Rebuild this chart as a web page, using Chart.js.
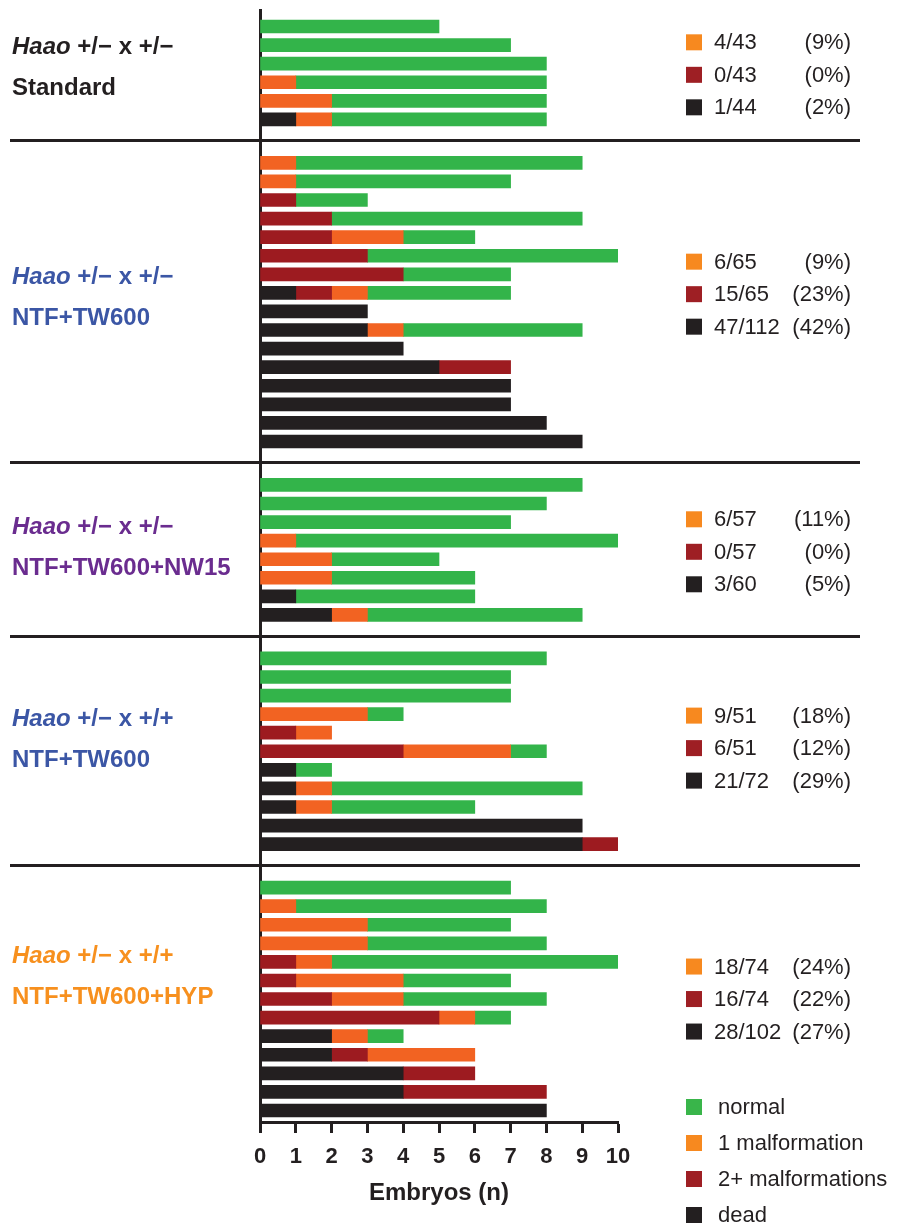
<!DOCTYPE html>
<html>
<head>
<meta charset="utf-8">
<script src="https://cdn.jsdelivr.net/npm/chart.js@4.4.1/dist/chart.umd.min.js"></script>
<style>
  html, body { margin: 0; padding: 0; background: #ffffff; }
  #wrap { position: relative; width: 910px; height: 1227px; }
</style>
</head>
<body>
<div id="wrap"><canvas id="litters"></canvas></div>
<script>
// Litters per experimental group; each row is one litter (embryo counts).
const groupSizes = [6, 16, 8, 11, 13];

const groupCross = ['+/\u2212 x +/\u2212', '+/\u2212 x +/\u2212', '+/\u2212 x +/\u2212', '+/\u2212 x +/+', '+/\u2212 x +/+'];
const groupDiet  = ['Standard', 'NTF+TW600', 'NTF+TW600+NW15', 'NTF+TW600', 'NTF+TW600+HYP'];

const dead = [
  0, 0, 0, 0, 0, 1,
  0, 0, 0, 0, 0, 0, 0, 1, 3, 3, 4, 5, 7, 7, 8, 9,
  0, 0, 0, 0, 0, 0, 1, 2,
  0, 0, 0, 0, 0, 0, 1, 1, 1, 9, 9,
  0, 0, 0, 0, 0, 0, 0, 0, 2, 2, 4, 4, 8
];
const twoPlus = [
  0, 0, 0, 0, 0, 0,
  0, 0, 1, 2, 2, 3, 4, 1, 0, 0, 0, 2, 0, 0, 0, 0,
  0, 0, 0, 0, 0, 0, 0, 0,
  0, 0, 0, 0, 1, 4, 0, 0, 0, 0, 1,
  0, 0, 0, 0, 1, 1, 2, 5, 0, 1, 2, 4, 0
];
const oneMal = [
  0, 0, 0, 1, 2, 1,
  1, 1, 0, 0, 2, 0, 0, 1, 0, 1, 0, 0, 0, 0, 0, 0,
  0, 0, 0, 1, 2, 2, 0, 1,
  0, 0, 0, 3, 1, 3, 0, 1, 1, 0, 0,
  0, 1, 3, 3, 1, 3, 2, 1, 1, 3, 0, 0, 0
];
const normal = [
  5, 7, 8, 7, 6, 6,
  8, 6, 2, 7, 2, 7, 3, 4, 0, 5, 0, 0, 0, 0, 0, 0,
  9, 8, 7, 9, 3, 4, 5, 6,
  8, 7, 7, 1, 0, 1, 1, 7, 4, 0, 0,
  7, 7, 4, 5, 8, 3, 4, 1, 1, 0, 0, 0, 0
];

// Summary per group: malformation and death rates
const oneMalStat  = ['4/43', '6/65', '6/57', '9/51', '18/74'];
const oneMalPct   = ['(9%)', '(9%)', '(11%)', '(18%)', '(24%)'];
const twoPlusStat = ['0/43', '15/65', '0/57', '6/51', '16/74'];
const twoPlusPct  = ['(0%)', '(23%)', '(0%)', '(12%)', '(22%)'];
const deadStat    = ['1/44', '47/112', '3/60', '21/72', '28/102'];
const deadPct     = ['(2%)', '(42%)', '(5%)', '(29%)', '(27%)'];

const xTicks = [0, 1, 2, 3, 4, 5, 6, 7, 8, 9, 10];

// ---- styling ----
const FONT = '"Liberation Sans", Arial, Helvetica, sans-serif';
const INK = '#231f20';
const BAR = { dead: '#231f20', two: '#9d1b20', one: '#f26322', normal: '#33b44a' };
const KEY = { dead: '#231f20', two: '#9e1f24', one: '#f7891f', normal: '#39b54a' };
const groupColors = ['#231f20', '#3b56a5', '#6a2c8f', '#3b56a5', '#f7901e'];
const GAP = 1.34;            // extra row space between groups
const labelShift = [-0.3, -0.22, -0.1, -0.62, -1.2];
const statShift = [0.1, -0.43, 0.1, -0.17, 0];

// Row positions on the vertical axis: consecutive litters, wider gap between groups
const rowPos = [];
const groupFirst = [];
let k = 0;
groupSizes.forEach((n, g) => {
  groupFirst.push(k + g * GAP);
  for (let i = 0; i < n; i++) { rowPos.push(k + g * GAP); k++; }
});
const lastPos = rowPos[rowPos.length - 1];

// empty segments are left out so nothing is drawn for them
const toPoints = arr => arr.map((v, i) => ({ x: v === 0 ? null : v, y: rowPos[i] }));

const datasets = [
  { label: 'dead', data: toPoints(dead), backgroundColor: BAR.dead, keyColor: KEY.dead },
  { label: '2+ malformations', data: toPoints(twoPlus), backgroundColor: BAR.two, keyColor: KEY.two },
  { label: '1 malformation', data: toPoints(oneMal), backgroundColor: BAR.one, keyColor: KEY.one },
  { label: 'normal', data: toPoints(normal), backgroundColor: BAR.normal, keyColor: KEY.normal }
].map(d => Object.assign(d, { barThickness: 13, borderWidth: 0 }));

function drawCrossLabel(ctx, x, y, color, cross) {
  ctx.fillStyle = color;
  ctx.textAlign = 'left';
  ctx.textBaseline = 'middle';
  ctx.font = 'italic bold 24px ' + FONT;
  ctx.fillText('Haao', x, y);
  const w = ctx.measureText('Haao').width;
  ctx.font = 'bold 24px ' + FONT;
  ctx.fillText(' ' + cross, x + w, y);
}

const decor = {
  id: 'decor',
  afterDraw(chart) {
    const { ctx } = chart;
    const ys = chart.scales.y;
    ctx.save();

    // separators between groups
    ctx.strokeStyle = INK;
    ctx.lineWidth = 3;
    for (let g = 1; g < groupSizes.length; g++) {
      const prevLast = groupFirst[g - 1] + groupSizes[g - 1] - 1;
      const y = Math.round((ys.getPixelForValue(prevLast) + ys.getPixelForValue(groupFirst[g])) / 2) - 0.5;
      ctx.beginPath();
      ctx.moveTo(10, y);
      ctx.lineTo(860, y);
      ctx.stroke();
    }

    groupSizes.forEach((n, g) => {
      const mid = groupFirst[g] + (n - 1) / 2;
      // group label on the left
      const ly = ys.getPixelForValue(mid + labelShift[g]);
      drawCrossLabel(ctx, 12, ly - 20.5, groupColors[g], groupCross[g]);
      ctx.fillStyle = groupColors[g];
      ctx.font = 'bold 24px ' + FONT;
      ctx.fillText(groupDiet[g], 12, ly + 20.5);

      // summary rates on the right
      const sy = ys.getPixelForValue(mid + statShift[g]);
      const rows = [
        [KEY.one, oneMalStat[g], oneMalPct[g]],
        [KEY.two, twoPlusStat[g], twoPlusPct[g]],
        [KEY.dead, deadStat[g], deadPct[g]]
      ];
      rows.forEach((r, i) => {
        const y = sy + (i - 1) * 32.5;
        ctx.fillStyle = r[0];
        ctx.fillRect(686, y - 8, 16, 16);
        ctx.fillStyle = INK;
        ctx.font = '22px ' + FONT;
        ctx.textBaseline = 'middle';
        ctx.textAlign = 'left';
        ctx.fillText(r[1], 714, y + 1);
        ctx.textAlign = 'right';
        ctx.fillText(r[2], 851, y + 1);
      });
    });

    // category key, bottom right
    const keyItems = chart.data.datasets.slice().reverse();
    keyItems.forEach((d, i) => {
      const y = 1107 + i * 36;
      ctx.fillStyle = d.keyColor;
      ctx.fillRect(686, y - 8, 16, 16);
      ctx.fillStyle = INK;
      ctx.font = '22px ' + FONT;
      ctx.textAlign = 'left';
      ctx.textBaseline = 'middle';
      ctx.fillText(d.label, 718, y + 1);
    });
    ctx.restore();
  }
};

new Chart(document.getElementById('litters'), {
  type: 'bar',
  data: { datasets },
  options: {
    indexAxis: 'y',
    responsive: true,
    maintainAspectRatio: false,
    animation: false,
    layout: { padding: { left: 260, right: 292, top: 10, bottom: 0 } },
    plugins: { legend: { display: false }, tooltip: { enabled: false } },
    scales: {
      x: {
        type: 'linear',
        position: 'bottom',
        min: 0,
        max: 10,
        stacked: true,
        offset: false,
        afterBuildTicks: s => { s.ticks = xTicks.map(v => ({ value: v })); },
        ticks: { color: INK, padding: 11, font: { family: FONT, size: 22, weight: 'bold' } },
        grid: { display: true, offset: false, drawOnChartArea: false, drawTicks: true, tickLength: 11, tickWidth: 3, tickColor: INK, color: INK },
        border: { display: true, color: INK, width: 3 },
        title: { display: true, text: 'Embryos (n)', color: INK, font: { family: FONT, size: 24, weight: 'bold' }, padding: { top: 0, bottom: 19 } },
        afterFit: s => { s.height = 105; }
      },
      y: {
        type: 'linear',
        position: 'left',
        reverse: true,
        stacked: true,
        offset: false,
        min: -0.89,
        max: lastPos + 0.62,
        ticks: { display: false },
        grid: { display: false, offset: false, drawTicks: false },
        border: { display: true, color: INK, width: 3 },
        afterFit: s => { s.width = 0; }
      }
    }
  },
  plugins: [decor]
});
</script>
</body>
</html>
